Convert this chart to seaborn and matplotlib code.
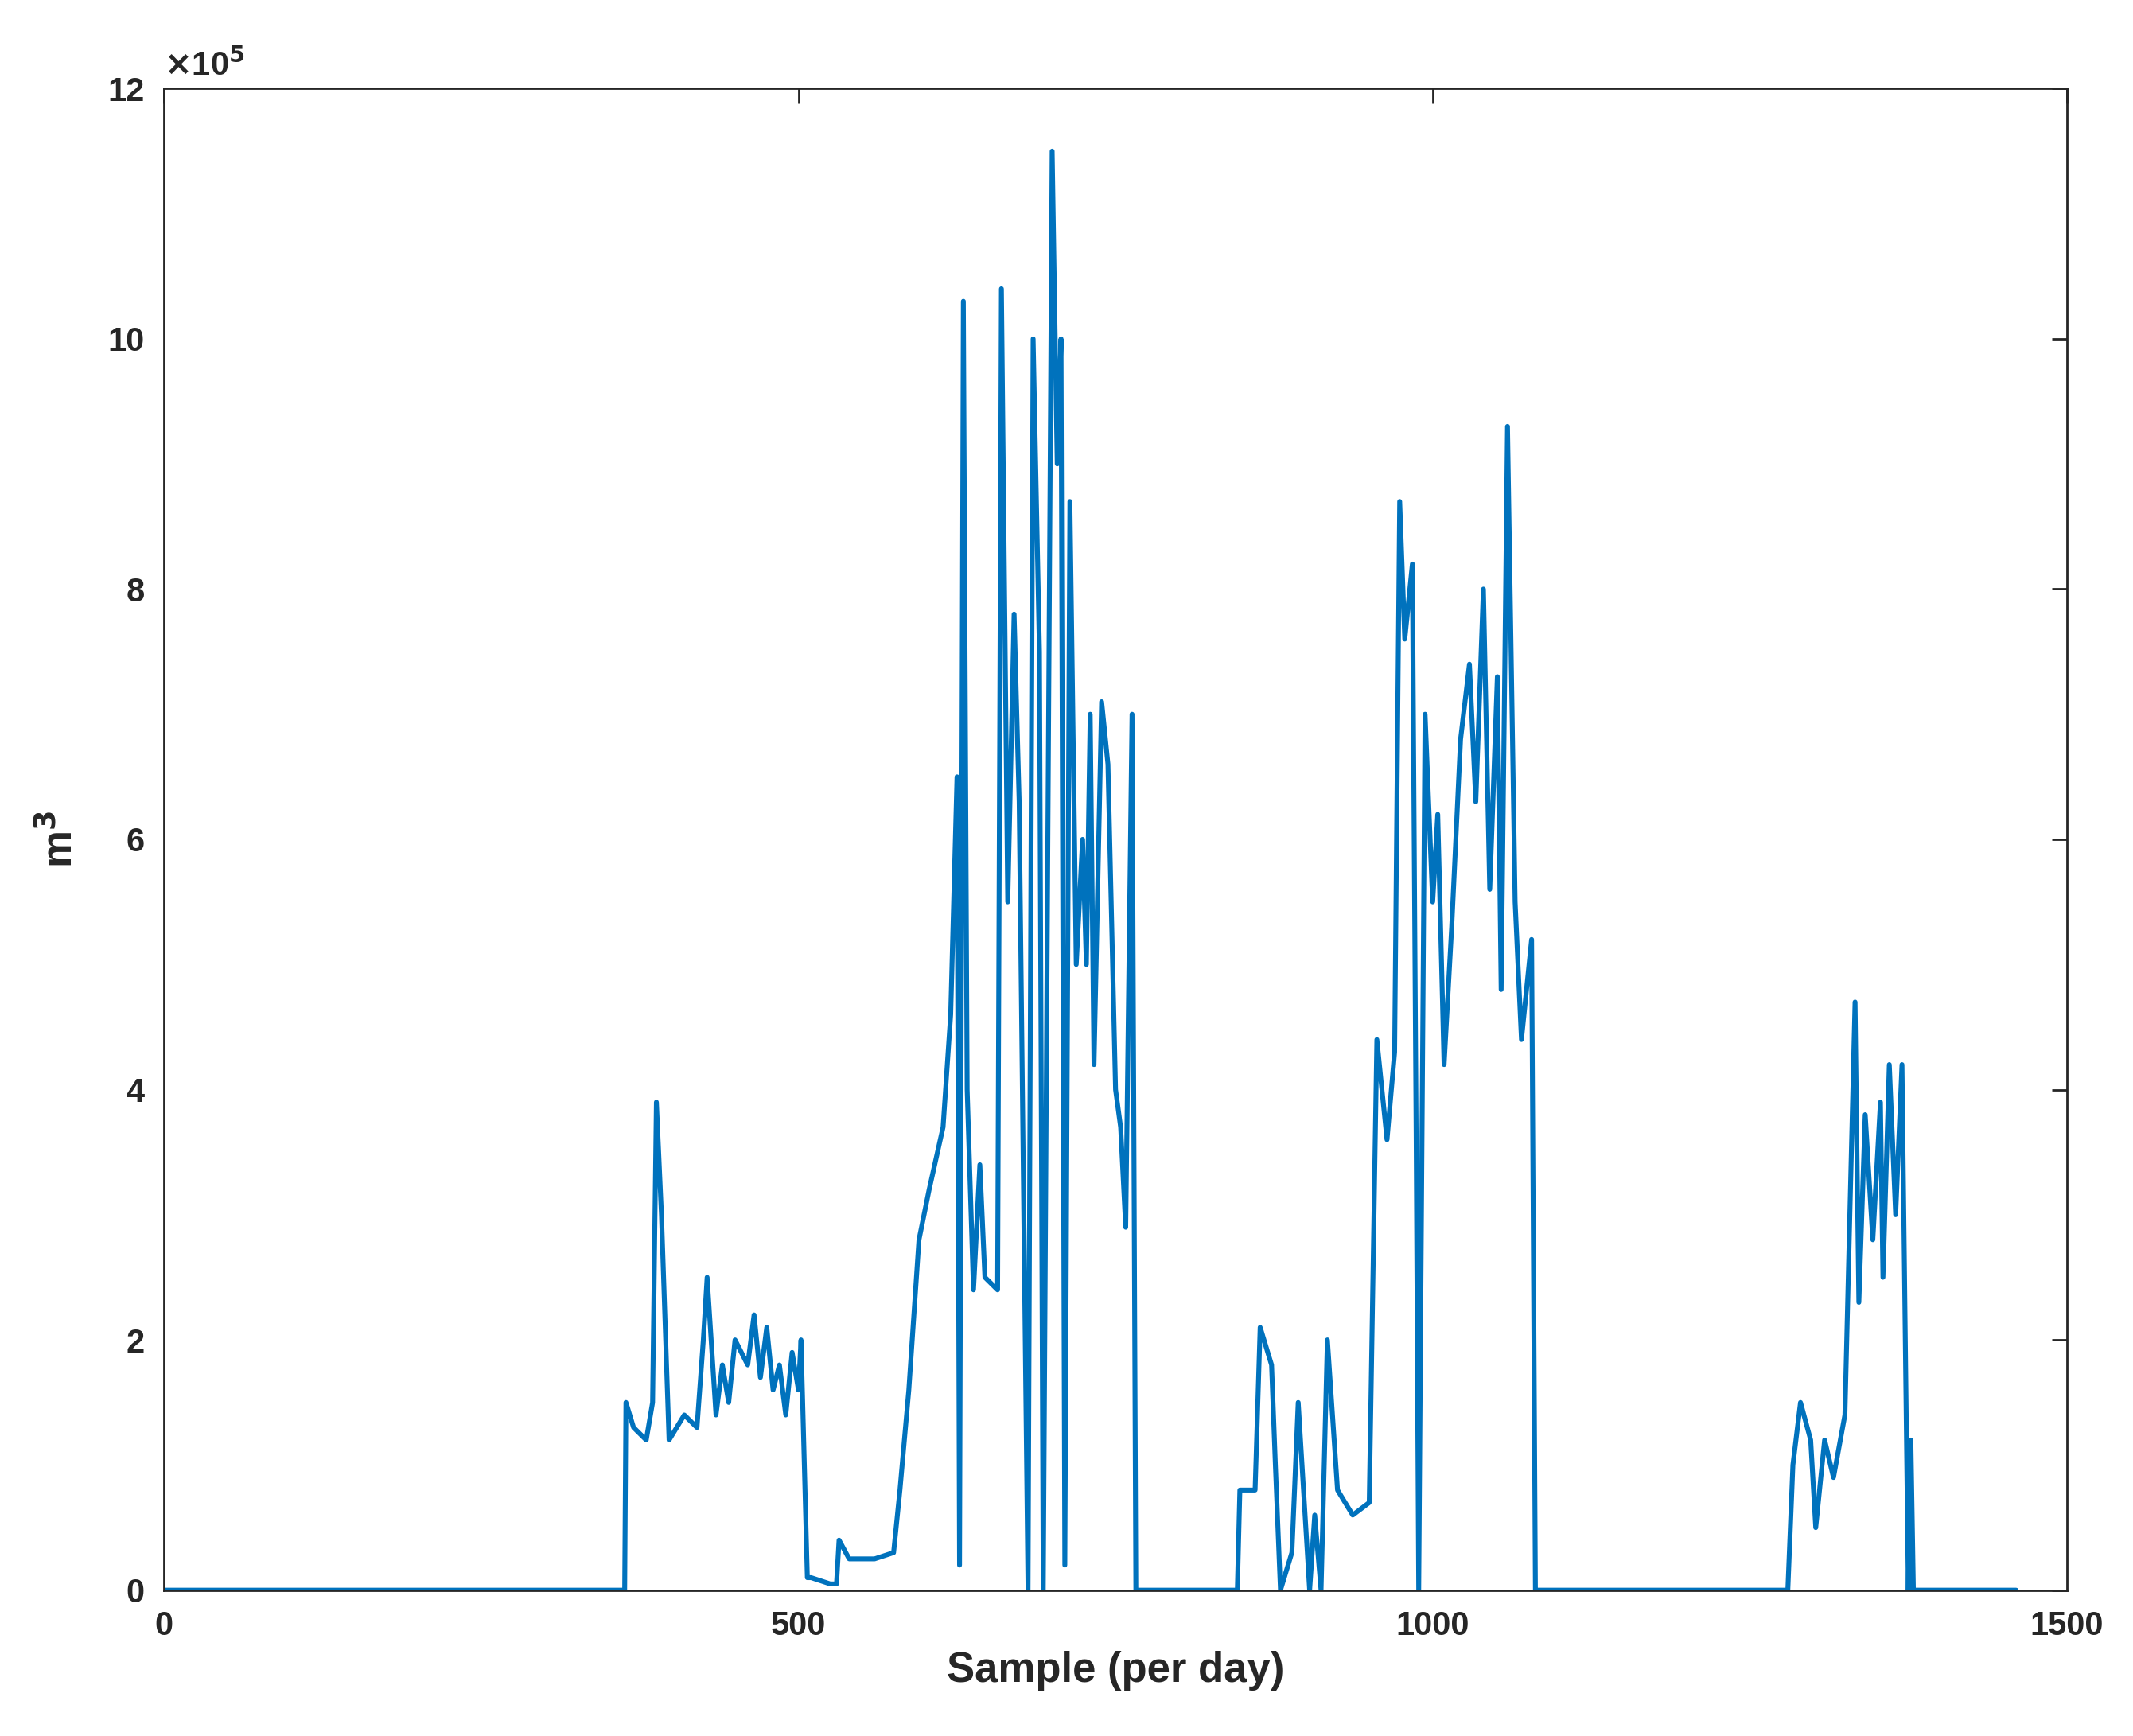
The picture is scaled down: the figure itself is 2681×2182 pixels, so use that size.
import matplotlib
matplotlib.use("Agg")
import matplotlib.pyplot as plt
import pandas as pd
import seaborn as sns

# breakpoints: sample day and volume in units of 1e5 m^3
sample_day = [0, 363, 364, 370, 380, 385, 388, 392, 398, 410, 420, 425, 428, 435, 440,
              445, 450, 460, 465, 470, 475, 480, 485, 490, 495, 500, 502, 507, 510,
              525, 530, 532, 540, 560, 575, 580, 587, 595, 603, 614, 620, 625, 627,
              630, 633, 638, 643, 647, 657, 660, 665, 670, 674, 681, 685, 690, 693,
              696, 700, 704, 707, 710, 714, 719, 724, 727, 730, 733, 739, 744, 750,
              754, 758, 763, 766, 846, 848, 860, 864, 873, 876, 880, 889, 894, 900,
              903, 907, 912, 917, 925, 937, 950, 956, 964, 970, 974, 978, 984, 987,
              989, 994, 1000, 1004, 1009, 1015, 1022, 1029, 1034, 1040, 1045, 1051,
              1054, 1059, 1065, 1070, 1078, 1081, 1280, 1284, 1290, 1298, 1302, 1309,
              1316, 1325, 1333, 1336, 1341, 1347, 1353, 1355, 1360, 1365, 1370, 1375,
              1377, 1379, 1460]
volume = [0, 0, 1.5, 1.3, 1.2, 1.5, 3.9, 3.0, 1.2, 1.4, 1.3, 2.0, 2.5, 1.4, 1.8,
          1.5, 2.0, 1.8, 2.2, 1.7, 2.1, 1.6, 1.8, 1.4, 1.9, 1.6, 2.0, 0.1, 0.1,
          0.05, 0.05, 0.4, 0.25, 0.25, 0.3, 0.8, 1.6, 2.8, 3.2, 3.7, 4.6, 6.5, 0.2,
          10.3, 4.0, 2.4, 3.4, 2.5, 2.4, 10.4, 5.5, 7.8, 6.3, 0, 10.0, 7.5, 0,
          5.0, 11.5, 9.0, 10.0, 0.2, 8.7, 5.0, 6.0, 5.0, 7.0, 4.2, 7.1, 6.6, 4.0,
          3.7, 2.9, 7.0, 0, 0, 0.8, 0.8, 2.1, 1.8, 1.0, 0, 0.3, 1.5, 0.5,
          0, 0.6, 0, 2.0, 0.8, 0.6, 0.7, 4.4, 3.6, 4.3, 8.7, 7.6, 8.2, 3.6,
          0, 7.0, 5.5, 6.2, 4.2, 5.3, 6.8, 7.4, 6.3, 8.0, 5.6, 7.3,
          4.8, 9.3, 5.5, 4.4, 5.2, 0, 0, 1.0, 1.5, 1.2, 0.5, 1.2,
          0.9, 1.4, 4.7, 2.3, 3.8, 2.8, 3.9, 2.5, 4.2, 3.0, 4.2, 0,
          1.2, 0, 0]

df = pd.DataFrame({"day": sample_day, "vol": volume})

sns.set_style("white")
plt.rcParams["font.family"] = ["Liberation Sans", "DejaVu Sans"]
plt.rcParams["font.weight"] = "bold"

fig = plt.figure(figsize=(13.405, 10.91), dpi=200)
ax = fig.add_axes([0.077, 0.084, 0.892, 0.865])
sns.lineplot(data=df, x="day", y="vol", color="#0072BD", linewidth=2.2,
             sort=False, estimator=None, ax=ax)

ax.set_xlim(0, 1500)
ax.set_ylim(0, 12)
ax.set_xticks([0, 500, 1000, 1500])
ax.set_yticks([0, 2, 4, 6, 8, 10, 12])
ax.tick_params(direction="in", top=True, right=True, length=7, width=1,
               labelsize=15, colors="#262626", pad=9)
for lbl in ax.get_xticklabels() + ax.get_yticklabels():
    lbl.set_fontweight("bold")
for s in ax.spines.values():
    s.set_color("#262626")
    s.set_linewidth(1)
ax.set_xlabel("Sample (per day)", fontsize=19, fontweight="bold", color="#262626",
              labelpad=4)
ax.set_ylabel("m$^\\mathbf{3}$", fontsize=19, fontweight="bold", color="#262626",
              labelpad=12)
ax.text(0, 1.004, "$\\times$10$^5$", transform=ax.transAxes, fontsize=15,
        fontweight="bold", color="#262626", va="bottom")

fig.savefig("out.png", dpi=200, facecolor="white")
